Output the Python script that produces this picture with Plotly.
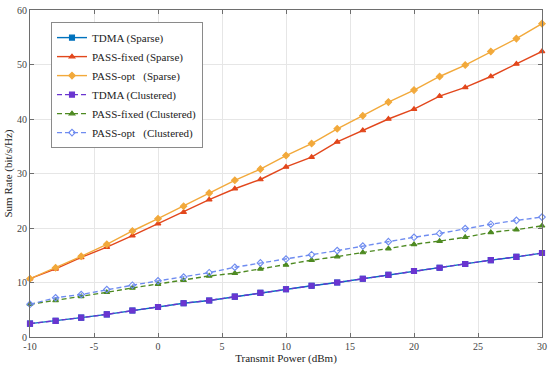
import plotly.graph_objects as go

power_dbm = [-10, -8, -6, -4, -2, 0, 2, 4, 6, 8, 10, 12, 14, 16, 18, 20, 22, 24, 26, 28, 30]

tdma_sparse = [2.45, 2.95, 3.55, 4.15, 4.85, 5.5, 6.2, 6.7, 7.4, 8.1, 8.75, 9.4, 10.0, 10.7, 11.4, 12.1, 12.7, 13.4, 14.1, 14.7, 15.4]
pass_fixed_sparse = [10.7, 12.5, 14.6, 16.5, 18.6, 20.8, 22.9, 25.2, 27.2, 28.9, 31.2, 33.0, 35.8, 37.9, 40.0, 41.8, 44.2, 45.8, 47.8, 50.1, 52.4]
pass_opt_sparse = [10.7, 12.7, 14.8, 17.0, 19.45, 21.7, 24.0, 26.4, 28.75, 30.8, 33.3, 35.5, 38.2, 40.6, 43.1, 45.3, 47.8, 49.9, 52.4, 54.75, 57.5]
tdma_clustered = [2.45, 2.95, 3.55, 4.15, 4.85, 5.5, 6.2, 6.7, 7.4, 8.1, 8.75, 9.4, 10.0, 10.7, 11.4, 12.1, 12.7, 13.4, 14.1, 14.7, 15.4]
pass_fixed_clustered = [6.0, 6.7, 7.45, 8.2, 9.0, 9.7, 10.4, 11.2, 11.7, 12.5, 13.2, 14.1, 14.75, 15.5, 16.2, 17.0, 17.6, 18.3, 19.2, 19.7, 20.4]
pass_opt_clustered = [6.0, 7.2, 7.8, 8.7, 9.5, 10.3, 11.0, 11.8, 12.8, 13.6, 14.3, 15.1, 15.85, 16.7, 17.5, 18.3, 19.0, 19.9, 20.7, 21.4, 22.0]

x_ticks = [-10, -5, 0, 5, 10, 15, 20, 25, 30]
x_tick_labels = ["-10", "-5", "0", "5", "10", "15", "20", "25", "30"]
y_ticks = [0, 10, 20, 30, 40, 50, 60]
y_tick_labels = ["0", "10", "20", "30", "40", "50", "60"]

SERIF = "Liberation Serif, 'Times New Roman', 'DejaVu Serif', serif"
NB = "\u00a0"
series = [
    ("TDMA (Sparse)", tdma_sparse, "#0072BD", "solid", "square", "#0072BD"),
    ("PASS-fixed (Sparse)", pass_fixed_sparse, "#E2471C", "solid", "triangle-up", "#E2471C"),
    ("PASS-opt" + NB * 3 + "(Sparse)", pass_opt_sparse, "#F2A93B", "solid", "diamond", "#F2A93B"),
    ("TDMA (Clustered)", tdma_clustered, "#6A35D0", "5px,3px", "square", "#6A35D0"),
    ("PASS-fixed (Clustered)", pass_fixed_clustered, "#4E8A22", "5px,3px", "triangle-up", "#4E8A22"),
    ("PASS-opt" + NB * 3 + "(Clustered)", pass_opt_clustered, "#6F8CF0", "5px,3px", "diamond-open", "#6F8CF0"),
]

fig = go.Figure()
for name, vals, color, dash, symbol, mcol in series:
    fig.add_trace(go.Scatter(
        x=power_dbm, y=vals, name=name, mode="lines+markers",
        line=dict(color=color, width=1.4, dash=dash),
        marker=dict(symbol=symbol, size=5, color=mcol, line=dict(color=mcol, width=1.1)),
        cliponaxis=False,
    ))

axis_common = dict(
    showline=True, linecolor="#6e6e6e", linewidth=1, mirror="ticks",
    ticks="inside", ticklen=4, tickcolor="#6e6e6e",
    showgrid=True, gridcolor="#e6e6e6", gridwidth=1, zeroline=False,
    automargin=False,
    tickfont=dict(family=SERIF, size=10, color="#444444"),
    title_font=dict(family=SERIF, size=11, color="#222222"),
)

fig.update_layout(
    width=550, height=367,
    font=dict(family=SERIF),
    margin=dict(l=30, r=8, t=10, b=30),
    paper_bgcolor="white", plot_bgcolor="white",
    xaxis=dict(range=[-10, 30], tickvals=x_ticks, ticktext=x_tick_labels,
               title=dict(text="Transmit Power (dBm)", standoff=2), **axis_common),
    yaxis=dict(range=[0, 60], tickvals=y_ticks, ticktext=y_tick_labels,
               title=dict(text="Sum Rate (bit/s/Hz)", standoff=2), **axis_common),
    legend=dict(
        x=0.041, y=0.963, xanchor="left", yanchor="top",
        bgcolor="white", bordercolor="#8a8a8a", borderwidth=1,
        font=dict(family=SERIF, size=11, color="#222222"),
        tracegroupgap=0, itemwidth=30,
    ),
    showlegend=True,
)

fig.write_html(
    "out.html",
    config={"displayModeBar": False},
    post_script="document.body.style.margin='0';document.body.style.overflow='hidden';",
)
